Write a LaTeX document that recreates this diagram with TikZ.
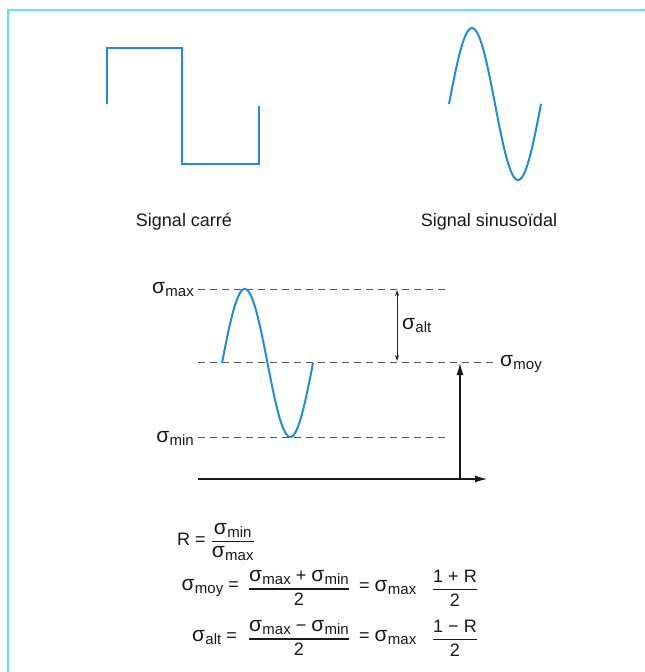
\documentclass[tikz,border=0pt]{standalone}
\usepackage{fontspec}
\setmainfont{Liberation Sans}
\usetikzlibrary{arrows.meta}
\definecolor{sigblue}{RGB}{30,140,225}
\definecolor{framecyan}{RGB}{90,235,240}
\newcommand{\sig}[1]{{\fontsize{21}{22}\selectfont σ}\kern0.3pt\raisebox{-3pt}{\fontsize{15}{17}\selectfont #1}}
\newcommand{\fr}[2]{$\displaystyle{\hbox{#1}\above 1.1pt\hbox{#2}}$}
\begin{document}
\begin{tikzpicture}[x=1pt,y=-1pt,
  wave/.style={sigblue, line width=2.3pt},
  guide/.style={black!65, line width=1pt, dash pattern=on 7pt off 5pt},
  axisline/.style={black!90, line width=1.1pt},
  lab/.style={font=\fontsize{18}{22}\selectfont, inner sep=0pt, text=black!90}]
\useasboundingbox (0,0) rectangle (645,672);
\fill[white] (0,0) rectangle (645,672);
\draw[framecyan, line width=2pt] (645,10) -- (8,10) -- (8,672);
% square signal
\coordinate (s0) at (107,104);
\coordinate (s1) at (107,48);
\coordinate (s2) at (182,48);
\coordinate (s3) at (182,164);
\coordinate (s4) at (259,164);
\coordinate (s5) at (259,106);
\draw[wave] (s0) -- (s1) -- (s2) -- (s3) -- (s4) -- (s5);
% sine signal
\draw[wave, line width=2pt] plot[domain=0:360, samples=73, smooth] ({449+\x/360*92},{104-76*sin(\x)});
\node[lab] (lsq) at (184,222) {Signal carré};
\node[lab] (lsin) at (489,222) {Signal sinusoïdal};
% middle diagram
\coordinate (mxL) at (198,289);
\coordinate (mxR) at (447,289);
\coordinate (mdL) at (198,362);
\coordinate (mdR) at (493,362);
\coordinate (mnL) at (198,437);
\coordinate (mnR) at (447,437);
\draw[guide] (mxL) -- (mxR);
\draw[guide] (mdL) -- (mdR);
\draw[guide] (mnL) -- (mnR);
\draw[wave, line width=2pt] plot[domain=0:360, samples=73, smooth] ({222+\x/360*91},{363-74*sin(\x)});
\node[lab, anchor=east] (smax) at (194,290) {\sig{max}};
\node[lab, anchor=east] (smin) at (194,438) {\sig{min}};
\node[lab, anchor=west] (smoy) at (500,364) {\sig{moy}};
\node[lab, anchor=west] (salt) at (402,326) {\sig{alt}};
\coordinate (aT) at (397,290);
\coordinate (aB) at (397,361);
\draw[black!85, line width=0.8pt, {Stealth[length=6pt,width=4pt]}-{Stealth[length=6pt,width=4pt]}] (aT) -- (aB);
\coordinate (vB) at (460,479);
\coordinate (vT) at (460,363);
\draw[axisline, -{Latex[length=12pt,width=7pt]}] (vB) -- (vT);
\coordinate (hL) at (198,479);
\coordinate (hR) at (487,479);
\draw[axisline, -{Latex[length=12pt,width=7pt]}] (hL) -- (hR);
% formulas
\node[lab, anchor=west] (r1) at (177,542) {R = \fr{\sig{min}}{\sig{max}}};
\node[lab, anchor=east] (r2a) at (239,588) {\sig{moy} =};
\node[lab] (r2b) at (299,588) {\fr{\sig{max} + \sig{min}}{2}};
\node[lab, anchor=west] (r2c) at (359,588) {= \sig{max}};
\node[lab] (r2d) at (455,588) {\fr{1 + R}{2}};
\node[lab, anchor=east] (r3a) at (237,638) {\sig{alt} =};
\node[lab] (r3b) at (299,638) {\fr{\sig{max} − \sig{min}}{2}};
\node[lab, anchor=west] (r3c) at (359,638) {= \sig{max}};
\node[lab] (r3d) at (455,638) {\fr{1 − R}{2}};
\end{tikzpicture}
\end{document}
